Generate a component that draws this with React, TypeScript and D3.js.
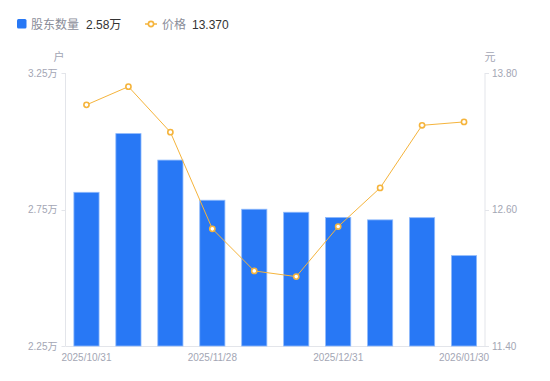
import React from "react";
import * as d3 from "d3";

const dates = ["2025/10/31","2025/11/07","2025/11/14","2025/11/28b","2025/12/05","2025/12/12","2025/12/31","2026/01/09","2026/01/16","2026/01/30"];
const dateLabels = ["2025/10/31","","","2025/11/28","","","2025/12/31","","","2026/01/30"];
const holders = [2.813, 3.028, 2.931, 2.784, 2.751, 2.740, 2.721, 2.712, 2.720, 2.581];
const prices = [13.52, 13.68, 13.28, 12.43, 12.06, 12.01, 12.45, 12.79, 13.34, 13.37];
const leftTicks = [2.25, 2.75, 3.25];
const rightTicks = [11.4, 12.6, 13.8];

const W = 550, H = 381;
const m = { left: 65.5, right: 485, top: 73, bottom: 346 };
const FONT = '"Liberation Sans", Arial, "Noto Sans CJK SC", sans-serif';

export default function App() {
  const x = d3.scaleBand<string>().domain(dates).range([m.left, m.right]).paddingInner(0.4).paddingOuter(0.2);
  const yL = d3.scaleLinear().domain([2.25, 3.25]).range([m.bottom, m.top]);
  const yR = d3.scaleLinear().domain([11.4, 13.8]).range([m.bottom, m.top]);
  const cx = (i: number) => (x(dates[i]) as number) + x.bandwidth() / 2;
  const line = d3.line<number>().x((_, i) => cx(i)).y((d) => yR(d));
  const axisColor = "#e3e5ea";
  const labelColor = "#a3a6b4";
  return (
    <svg width={W} height={H} style={{ position: "absolute", left: 0, top: 0, fontFamily: FONT }}>
      {/* legend */}
      <rect x={17} y={19} width={9.5} height={9.5} rx={1.5} fill="#2878f5" />
      <text x={31} y={28.5} fontSize={12} fill="#8a8d99">股东数量</text>
      <text x={86} y={28.5} fontSize={12} fill="#333">2.58万</text>
      <line x1={145} x2={157} y1={24} y2={24} stroke="#f5b43c" strokeWidth={1.5} />
      <circle cx={151} cy={24} r={2.6} fill="#fff" stroke="#f5b43c" strokeWidth={1.6} />
      <text x={162} y={28.5} fontSize={12} fill="#8a8d99">价格</text>
      <text x={192} y={28.5} fontSize={12} fill="#333">13.370</text>

      {/* unit labels */}
      <text x={59} y={61} fontSize={11} fill={labelColor} textAnchor="middle">户</text>
      <text x={490} y={61} fontSize={11} fill={labelColor} textAnchor="middle">元</text>

      {/* axes */}
      <line x1={m.left} x2={m.left} y1={m.top} y2={m.bottom} stroke={axisColor} />
      <line x1={m.right} x2={m.right} y1={m.top} y2={m.bottom} stroke={axisColor} />
      <line x1={m.left} x2={m.right} y1={m.bottom + 0.5} y2={m.bottom + 0.5} stroke={axisColor} />
      {leftTicks.map((t) => (
        <g key={"l" + t}>
          <line x1={m.left - 4} x2={m.left} y1={Math.round(yL(t)) + 0.5} y2={Math.round(yL(t)) + 0.5} stroke={axisColor} />
          <text x={m.left - 8} y={yL(t) + 3.5} fontSize={10} fill={labelColor} textAnchor="end">{d3.format(".2f")(t)}万</text>
        </g>
      ))}
      {rightTicks.map((t) => (
        <g key={"r" + t}>
          <line x1={m.right} x2={m.right + 4} y1={Math.round(yR(t)) + 0.5} y2={Math.round(yR(t)) + 0.5} stroke={axisColor} />
          <text x={m.right + 7} y={yR(t) + 3.5} fontSize={10} fill={labelColor} textAnchor="start">{d3.format(".2f")(t)}</text>
        </g>
      ))}

      {/* bars */}
      {holders.map((v, i) => (
        <rect key={"b" + i} x={x(dates[i])} y={yL(v)} width={x.bandwidth()} height={m.bottom - yL(v)}
          fill="#2878f5" stroke="#8fbafc" strokeWidth={0.8} />
      ))}

      {/* x labels */}
      {dateLabels.map((l, i) => l ? (
        <text key={"x" + i} x={cx(i)} y={361} fontSize={10} fill={labelColor} textAnchor="middle">{l}</text>
      ) : null)}

      {/* price line */}
      <path d={line(prices) || ""} fill="none" stroke="#f5b43c" strokeWidth={1} />
      {prices.map((v, i) => (
        <circle key={"p" + i} cx={cx(i)} cy={yR(v)} r={2.6} fill="#fff" stroke="#f5b43c" strokeWidth={1.6} />
      ))}
    </svg>
  );
}
